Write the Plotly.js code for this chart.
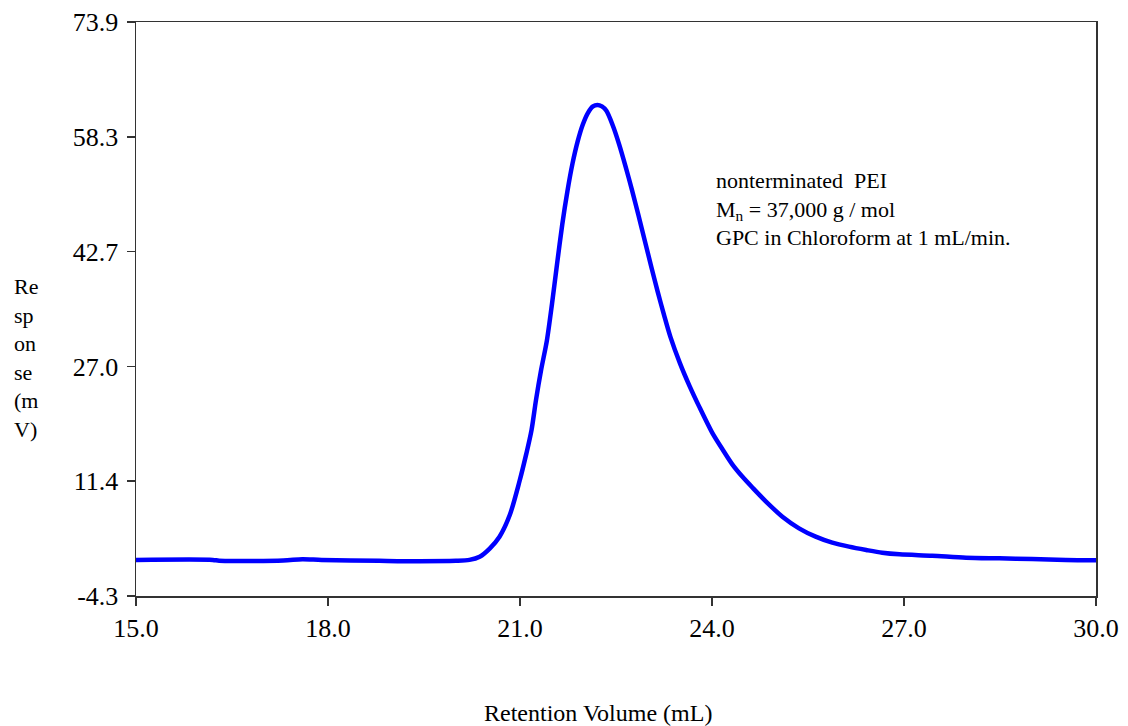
<!DOCTYPE html>
<html>
<head>
<meta charset="utf-8">
<script src="https://cdn.plot.ly/plotly-3.0.1.min.js"></script>
<style>
  html, body { margin: 0; padding: 0; background: #ffffff; }
  #chart { width: 1128px; height: 726px; }
</style>
</head>
<body>
<div id="chart"></div>
<script>
// Retention volume (mL)
const retentionVolume = [
  15.0, 16.2, 16.3, 17.3, 17.6, 17.9, 18.8, 19.2, 20.0, 20.21,
  20.37, 20.53, 20.68, 20.84, 20.99, 21.10, 21.18, 21.25, 21.33, 21.42,
  21.50, 21.58, 21.66, 21.74, 21.82, 21.90, 21.98, 22.06, 22.14, 22.21,
  22.28, 22.35, 22.45, 22.55, 22.65, 22.75, 22.85, 22.95, 23.05, 23.15,
  23.25, 23.35, 23.50, 23.65, 23.80, 24.00, 24.17, 24.32, 24.48, 24.64,
  24.84, 25.10, 25.36, 25.62, 25.88, 26.14, 26.41, 26.66, 26.93, 27.44,
  27.97, 28.49, 29.00, 29.53, 30.0
];
// Detector response (mV)
const response = [
  0.62, 0.62, 0.50, 0.55, 0.72, 0.62, 0.50, 0.45, 0.50, 0.62,
  1.05, 2.20, 3.78, 6.73, 11.26, 15.13, 18.30, 22.40, 26.50, 30.50,
  35.50, 41.00, 46.30, 50.80, 54.60, 57.60, 59.90, 61.50, 62.40, 62.60,
  62.40, 61.80, 59.80, 57.20, 54.20, 51.00, 47.60, 44.10, 40.60, 37.20,
  34.00, 31.00, 27.40, 24.30, 21.50, 18.00, 15.60, 13.60, 11.90, 10.40,
  8.60, 6.50, 4.92, 3.78, 2.96, 2.42, 1.97, 1.60, 1.38, 1.19,
  0.92, 0.83, 0.74, 0.60, 0.57
];
// Axis tick positions and labels
const yTickVals = [-4.3, 11.34, 26.98, 42.62, 58.26, 73.9];
const yTickText = ["-4.3", "11.4", "27.0", "42.7", "58.3", "73.9"];
const xTickVals = [15, 18, 21, 24, 27, 30];
const xTickText = ["15.0", "18.0", "21.0", "24.0", "27.0", "30.0"];

const serif = "'Liberation Serif', 'Times New Roman', Times, 'DejaVu Serif', serif";

const trace = {
  x: retentionVolume,
  y: response,
  type: "scatter",
  mode: "lines",
  line: { color: "#0000ff", width: 4.5, shape: "spline", smoothing: 0.8 },
  hoverinfo: "x+y"
};

const layout = {
  width: 1128,
  height: 726,
  margin: { l: 136, r: 32, t: 22, b: 130 },
  paper_bgcolor: "#ffffff",
  plot_bgcolor: "#ffffff",
  showlegend: false,
  font: { family: serif, color: "#000000", size: 25 },
  xaxis: {
    range: [15, 30],
    tickvals: xTickVals,
    ticktext: xTickText,
    ticks: "outside",
    ticklen: 8,
    tickwidth: 1.5,
    tickcolor: "#333333",
    showline: true,
    linecolor: "#333333",
    linewidth: 1.5,
    mirror: true,
    showgrid: false,
    zeroline: false,
    tickfont: { family: serif, size: 26, color: "#000000" }
  },
  yaxis: {
    range: [-4.3, 73.9],
    tickvals: yTickVals,
    ticktext: yTickText,
    ticks: "outside",
    ticklen: 8,
    tickwidth: 1.5,
    tickcolor: "#333333",
    ticklabelstandoff: 3,
    showline: true,
    linecolor: "#333333",
    linewidth: 1.5,
    mirror: true,
    showgrid: false,
    zeroline: false,
    tickfont: { family: serif, size: 26, color: "#000000" }
  },
  annotations: [
    {
      text: "Retention Volume (mL)",
      xref: "paper", yref: "paper",
      x: 0.4808, y: -0.204,
      xanchor: "center", yanchor: "middle",
      showarrow: false,
      font: { family: serif, size: 24, color: "#000000" }
    },
    {
      text: "Re<br>sp<br>on<br>se<br>(m<br>V)",
      xref: "paper", yref: "paper",
      x: -0.129, y: 0.4146,
      xanchor: "left", yanchor: "middle",
      align: "left",
      showarrow: false,
      font: { family: serif, size: 22, color: "#000000" }
    },
    {
      text: "nonterminated\u00A0\u00A0PEI<br>M<sub>n</sub> = 37,000 g / mol<br>GPC in Chloroform at 1 mL/min.",
      xref: "paper", yref: "paper",
      x: 0.6025, y: 0.674,
      xanchor: "left", yanchor: "middle",
      align: "left",
      showarrow: false,
      font: { family: serif, size: 22, color: "#000000" }
    }
  ]
};

Plotly.newPlot("chart", [trace], layout, { displayModeBar: false, staticPlot: true });
</script>
</body>
</html>
